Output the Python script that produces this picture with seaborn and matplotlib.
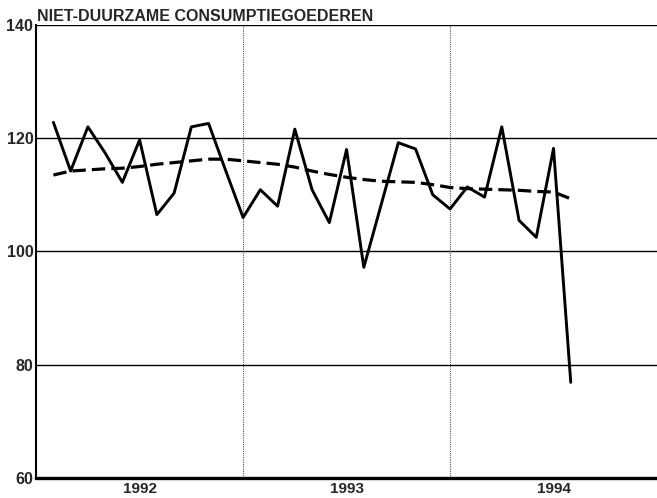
import matplotlib
matplotlib.use("Agg")
import matplotlib.pyplot as plt
import pandas as pd
import seaborn as sns

# maanden vanaf januari 1992 (1 = eind januari)
months = list(range(1, 32))

# niet-duurzame consumptiegoederen, werkelijke index
actual = [122.8, 114.2, 122.0, 117.4, 112.2, 119.7, 106.5, 110.3, 122.0, 122.6,
          114.2, 106.0, 110.9, 108.0, 121.6, 110.9, 105.1, 118.0, 97.2, 108.2,
          119.2, 118.1, 110.0, 107.5, 111.4, 109.6, 122.0, 105.5, 102.5, 118.2,
          76.9]

# trend (gestippeld)
trend = [113.5, 114.2, 114.4, 114.6, 114.7, 115.0, 115.4, 115.7, 116.0, 116.3,
         116.3, 116.0, 115.7, 115.4, 114.9, 114.2, 113.6, 113.1, 112.7, 112.4,
         112.3, 112.2, 111.8, 111.3, 111.1, 111.0, 110.9, 110.8, 110.6, 110.5,
         109.3]

years = ["1992", "1993", "1994"]
year_centers = [6, 18, 30]
year_bounds = [12, 24]
hlines = [80, 100, 120, 140]

df = pd.DataFrame({"maand": months, "werkelijk": actual, "trend": trend})

sns.set_style("white")
plt.rcParams["font.family"] = ["Liberation Sans", "DejaVu Sans"]

fig = plt.figure(figsize=(6.57, 4.98), dpi=100)
ax = fig.add_axes([0.055, 0.04, 0.945, 0.91])

# raster
for h in hlines:
    ax.axhline(h, color="black", lw=1.0, zorder=1)
for b in year_bounds:
    ax.axvline(b, color="#555555", lw=0.8, ls=(0, (1, 1)), zorder=1)

sns.lineplot(data=df, x="maand", y="werkelijk", color="black", lw=2.1, ax=ax, zorder=3)
sns.lineplot(data=df, x="maand", y="trend", color="black", lw=2.3, ax=ax,
             linestyle=(0, (4.2, 1.9)), zorder=3)

ax.set_xlim(0, 36)
ax.set_ylim(60, 140)

ax.set_yticks(range(60, 141, 20))
ax.set_yticks(range(60, 141, 5), minor=True)
ax.set_xticks(year_centers, labels=years)
ax.set_xticks(range(1, 36), minor=True)

ax.tick_params(axis="y", which="major", direction="in", length=4, width=1.2,
               pad=2, labelsize=11.5)
ax.tick_params(axis="y", which="minor", direction="in", length=3, width=1.2)
ax.tick_params(axis="x", which="major", length=0, pad=3, labelsize=11)
ax.tick_params(axis="x", which="minor", direction="in", length=4, width=1.0)
for lab in ax.get_xticklabels() + ax.get_yticklabels():
    lab.set_fontweight("bold")

ax.set_xlabel("")
ax.set_ylabel("")
ax.spines["top"].set_visible(False)
ax.spines["right"].set_visible(False)
ax.spines["left"].set_linewidth(1.5)
ax.spines["bottom"].set_linewidth(2.4)
for s in ["left", "bottom"]:
    ax.spines[s].set_color("black")

ax.text(0.002, 1.003, "NIET-DUURZAME CONSUMPTIEGOEDEREN", transform=ax.transAxes,
        fontsize=11.5, fontweight="bold", ha="left", va="bottom")

fig.savefig("out.png", dpi=100)
